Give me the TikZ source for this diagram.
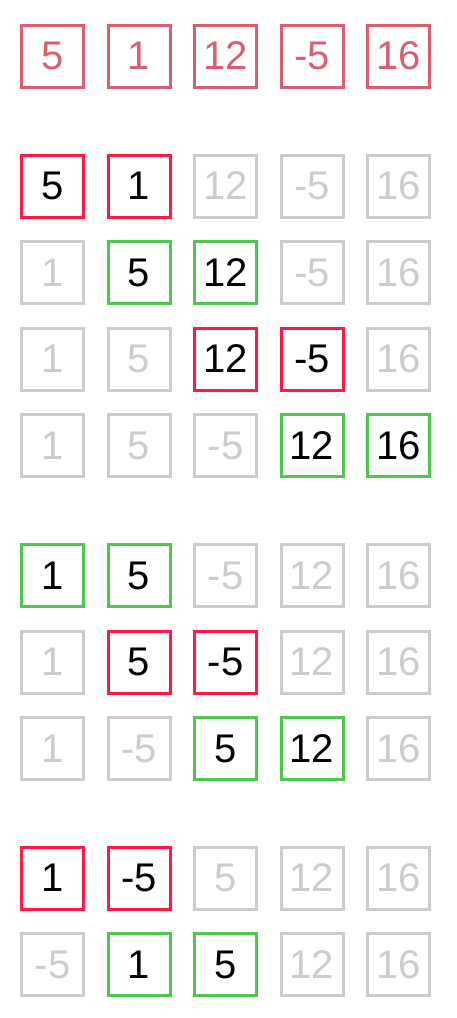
\documentclass[tikz,border=0pt]{standalone}
\usepackage{fontspec}
\setmainfont{Liberation Sans}
\definecolor{topred}{HTML}{D95F70}
\definecolor{hotred}{HTML}{FF1A44}
\definecolor{okgreen}{HTML}{4CC84C}
\definecolor{dimgrey}{HTML}{CCCCCC}
\tikzset{
  cell/.style={draw, line width=3pt, minimum size=62pt, inner sep=0pt,
    font=\fontsize{40}{48}\selectfont},
  initc/.style={cell, draw=topred, text=topred},
  swapc/.style={cell, draw=hotred, text=black},
  keepc/.style={cell, draw=okgreen, text=black},
  idlec/.style={cell, draw=dimgrey, text=dimgrey},
}
\begin{document}
\begin{tikzpicture}[x=1pt,y=-1pt]
\useasboundingbox (0,0) rectangle (456,1018);
\fill[white] (0,0) rectangle (456,1018);
\def\cA{52.5}\def\cB{139}\def\cC{225.5}\def\cD{312}\def\cE{398.5}
% row 1
\node[initc] (r1a) at (\cA,56) {5};
\node[initc] (r1b) at (\cB,56) {1};
\node[initc] (r1c) at (\cC,56) {12};
\node[initc] (r1d) at (\cD,56) {-5};
\node[initc] (r1e) at (\cE,56) {16};
% row 2
\node[swapc] (r2a) at (\cA,186) {5};
\node[swapc] (r2b) at (\cB,186) {1};
\node[idlec] (r2c) at (\cC,186) {12};
\node[idlec] (r2d) at (\cD,186) {-5};
\node[idlec] (r2e) at (\cE,186) {16};
% row 3
\node[idlec] (r3a) at (\cA,272.5) {1};
\node[keepc] (r3b) at (\cB,272.5) {5};
\node[keepc] (r3c) at (\cC,272.5) {12};
\node[idlec] (r3d) at (\cD,272.5) {-5};
\node[idlec] (r3e) at (\cE,272.5) {16};
% row 4
\node[idlec] (r4a) at (\cA,359) {1};
\node[idlec] (r4b) at (\cB,359) {5};
\node[swapc] (r4c) at (\cC,359) {12};
\node[swapc] (r4d) at (\cD,359) {-5};
\node[idlec] (r4e) at (\cE,359) {16};
% row 5
\node[idlec] (r5a) at (\cA,445.5) {1};
\node[idlec] (r5b) at (\cB,445.5) {5};
\node[idlec] (r5c) at (\cC,445.5) {-5};
\node[keepc] (r5d) at (\cD,445.5) {12};
\node[keepc] (r5e) at (\cE,445.5) {16};
% row 6
\node[keepc] (r6a) at (\cA,575.5) {1};
\node[keepc] (r6b) at (\cB,575.5) {5};
\node[idlec] (r6c) at (\cC,575.5) {-5};
\node[idlec] (r6d) at (\cD,575.5) {12};
\node[idlec] (r6e) at (\cE,575.5) {16};
% row 7
\node[idlec] (r7a) at (\cA,662) {1};
\node[swapc] (r7b) at (\cB,662) {5};
\node[swapc] (r7c) at (\cC,662) {-5};
\node[idlec] (r7d) at (\cD,662) {12};
\node[idlec] (r7e) at (\cE,662) {16};
% row 8
\node[idlec] (r8a) at (\cA,748.5) {1};
\node[idlec] (r8b) at (\cB,748.5) {-5};
\node[keepc] (r8c) at (\cC,748.5) {5};
\node[keepc] (r8d) at (\cD,748.5) {12};
\node[idlec] (r8e) at (\cE,748.5) {16};
% row 9
\node[swapc] (r9a) at (\cA,878) {1};
\node[swapc] (r9b) at (\cB,878) {-5};
\node[idlec] (r9c) at (\cC,878) {5};
\node[idlec] (r9d) at (\cD,878) {12};
\node[idlec] (r9e) at (\cE,878) {16};
% row 10
\node[idlec] (r10a) at (\cA,964.5) {-5};
\node[keepc] (r10b) at (\cB,964.5) {1};
\node[keepc] (r10c) at (\cC,964.5) {5};
\node[idlec] (r10d) at (\cD,964.5) {12};
\node[idlec] (r10e) at (\cE,964.5) {16};
\end{tikzpicture}
\end{document}
